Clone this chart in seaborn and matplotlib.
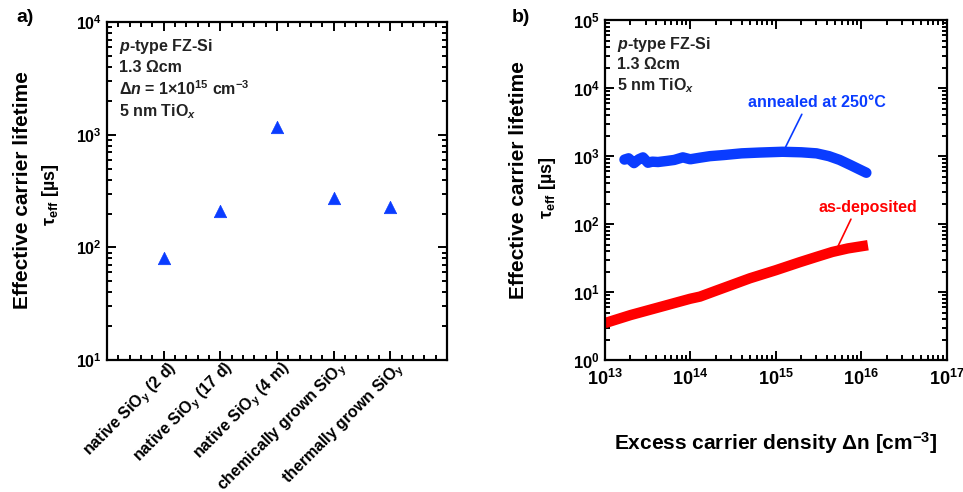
import matplotlib
matplotlib.use("Agg")
import matplotlib.pyplot as plt
from matplotlib.ticker import MultipleLocator, LogLocator, NullFormatter
from matplotlib.transforms import ScaledTranslation
import pandas as pd
import seaborn as sns

# panel a) lifetime per interlayer
samples = [
    "native SiO$_{\\mathrm{y}}$ (2 d)",
    "native SiO$_{\\mathrm{y}}$ (17 d)",
    "native SiO$_{\\mathrm{y}}$ (4 m)",
    "chemically grown SiO$_{\\mathrm{y}}$",
    "thermally grown SiO$_{\\mathrm{y}}$",
]
tau_samples = [80, 210, 1170, 275, 228]

# panel b) lifetime vs excess carrier density
dn_annealed = [1.7e13, 1.9e13, 2.2e13, 2.5e13, 2.8e13, 3.2e13, 3.6e13, 4.2e13, 5.3e13,
               6.5e13, 8.2e13, 1.0e14, 1.3e14, 1.7e14, 2.5e14, 4.0e14, 6.5e14, 1.2e15,
               2.0e15, 3.0e15, 4.2e15, 5.6e15, 7.5e15, 9.5e15, 1.15e16]
tau_annealed = [890, 930, 790, 900, 960, 800, 830, 820, 850,
                880, 960, 900, 950, 1000, 1040, 1100, 1130, 1160,
                1140, 1100, 1000, 880, 740, 640, 570]
dn_deposited = [1.0e13, 2.0e13, 5.0e13, 1.0e14, 1.3e14, 2.0e14, 5.0e14, 1.0e15,
                1.9e15, 3.0e15, 4.6e15, 7.0e15, 1.2e16]
tau_deposited = [3.5, 4.6, 6.3, 8.0, 8.6, 10.5, 16, 21, 27.5, 33, 39, 44, 49]

BLUE = "#0a3cff"
RED = "#ff0000"

sns.set_theme(style="ticks")
plt.rcParams["font.family"] = ["Liberation Sans", "DejaVu Sans"]
plt.rcParams["font.weight"] = "bold"
plt.rcParams["text.color"] = "black"
plt.rcParams["axes.labelcolor"] = "black"
plt.rcParams["axes.edgecolor"] = "black"
plt.rcParams["mathtext.fontset"] = "custom"
plt.rcParams["mathtext.rm"] = "Liberation Sans:bold"
plt.rcParams["mathtext.bf"] = "Liberation Sans:bold"
plt.rcParams["mathtext.it"] = "Liberation Sans:bold:italic"
plt.rcParams["mathtext.default"] = "rm"
plt.rcParams["axes.linewidth"] = 1.6

fig = plt.figure(figsize=(9.63, 4.92), dpi=100)
ax1 = fig.add_axes([0.111, 0.268, 0.353, 0.687])
ax2 = fig.add_axes([0.628, 0.268, 0.355, 0.691])


def style_ticks(ax, size):
    ax.tick_params(which="both", direction="in", top=True, right=True, width=1.4,
                   labelsize=size, colors="black")
    ax.tick_params(which="major", length=6.5)
    ax.tick_params(which="minor", length=3.5)
    for lab in ax.get_xticklabels() + ax.get_yticklabels():
        lab.set_fontweight("bold")


# ---- panel a
df_a = pd.DataFrame({"sample": samples, "tau": tau_samples})
sns.scatterplot(data=df_a, x="sample", y="tau", ax=ax1, marker="^", s=80,
                color=BLUE, edgecolor=BLUE, linewidth=0.5, zorder=3)
ax1.set_yscale("log")
ax1.set_ylim(10, 1e4)
ax1.set_xlim(-1, 5)
ax1.xaxis.set_minor_locator(MultipleLocator(0.2))
ax1.yaxis.set_minor_locator(LogLocator(subs=range(2, 10), numticks=10))
ax1.yaxis.set_minor_formatter(NullFormatter())
ax1.set_xticks(range(len(samples)))
ax1.set_xticklabels(samples, rotation=45, ha="right", va="center",
                    rotation_mode="anchor", fontsize=8.4, fontweight="bold")
ax1.set_xlabel("")
ax1.set_ylabel("")
style_ticks(ax1, 11.5)
ax1.tick_params(axis="x", which="major", pad=4)
shift = ScaledTranslation(8 / 72, 0, fig.dpi_scale_trans)
for lab in ax1.get_xticklabels():
    lab.set_transform(lab.get_transform() + shift)
ax1.text(0.035, 0.955,
         "$\\mathit{p}$-type FZ-Si\n1.3 \u03a9cm\n\u0394$\\mathit{n}$ = 1\u00d710$^{15}$ cm$^{-3}$\n5 nm TiO$_{\\mathit{x}}$",
         transform=ax1.transAxes, ha="left", va="top", fontsize=11.5,
         fontweight="bold", color="#222222", linespacing=1.3)
fig.text(0.023, 0.614, "Effective carrier lifetime", rotation=90, ha="center",
         va="center", fontsize=15, fontweight="bold")
fig.text(0.052, 0.604, "$\\tau_{\\mathrm{eff}}$ [\u00b5s]", rotation=90, ha="center",
         va="center", fontsize=13, fontweight="bold")
fig.text(0.017, 0.965, "a)", ha="left", va="center", fontsize=14, fontweight="bold")

# ---- panel b
df_ann = pd.DataFrame({"dn": dn_annealed, "tau": tau_annealed})
df_dep = pd.DataFrame({"dn": dn_deposited, "tau": tau_deposited})
sns.lineplot(data=df_ann, x="dn", y="tau", ax=ax2, color=BLUE, lw=7.5,
             solid_capstyle="round", solid_joinstyle="round")
sns.lineplot(data=df_dep, x="dn", y="tau", ax=ax2, color=RED, lw=7.5,
             solid_capstyle="butt")
ax2.set_xscale("log")
ax2.set_yscale("log")
ax2.set_xlim(1e13, 1e17)
ax2.set_ylim(1, 1e5)
for axis in (ax2.xaxis, ax2.yaxis):
    axis.set_major_locator(LogLocator(numticks=10))
    axis.set_minor_locator(LogLocator(subs=range(2, 10), numticks=10))
    axis.set_minor_formatter(NullFormatter())
ax2.set_xlabel("Excess carrier density \u0394n [cm$^{-3}$]", fontsize=15,
               fontweight="bold", labelpad=30)
ax2.set_ylabel("")
style_ticks(ax2, 12)
ax2.tick_params(axis="x", labelsize=13, pad=6)
ax2.text(0.035, 0.955, "$\\mathit{p}$-type FZ-Si\n1.3 \u03a9cm\n5 nm TiO$_{\\mathit{x}}$",
         transform=ax2.transAxes, ha="left", va="top", fontsize=11.5,
         fontweight="bold", color="#222222", linespacing=1.25)
ax2.annotate("annealed at 250\u00b0C", xy=(1.3e15, 1350), xytext=(3e15, 6200),
             ha="center", va="center", fontsize=11.5, fontweight="bold", color=BLUE,
             arrowprops=dict(arrowstyle="-", color=BLUE, lw=1.2, shrinkA=1, shrinkB=0,
                             relpos=(0.41, 0)))
ax2.annotate("as-deposited", xy=(5.3e15, 46), xytext=(1.2e16, 178),
             ha="center", va="center", fontsize=11.5, fontweight="bold", color=RED,
             arrowprops=dict(arrowstyle="-", color=RED, lw=1.2, shrinkA=1, shrinkB=0,
                             relpos=(0.35, 0)))
fig.text(0.538, 0.634, "Effective carrier lifetime", rotation=90, ha="center",
         va="center", fontsize=15, fontweight="bold")
fig.text(0.569, 0.618, "$\\tau_{\\mathrm{eff}}$ [\u00b5s]", rotation=90, ha="center",
         va="center", fontsize=13, fontweight="bold")
fig.text(0.531, 0.965, "b)", ha="left", va="center", fontsize=14, fontweight="bold")

fig.savefig("out.png", dpi=100)
